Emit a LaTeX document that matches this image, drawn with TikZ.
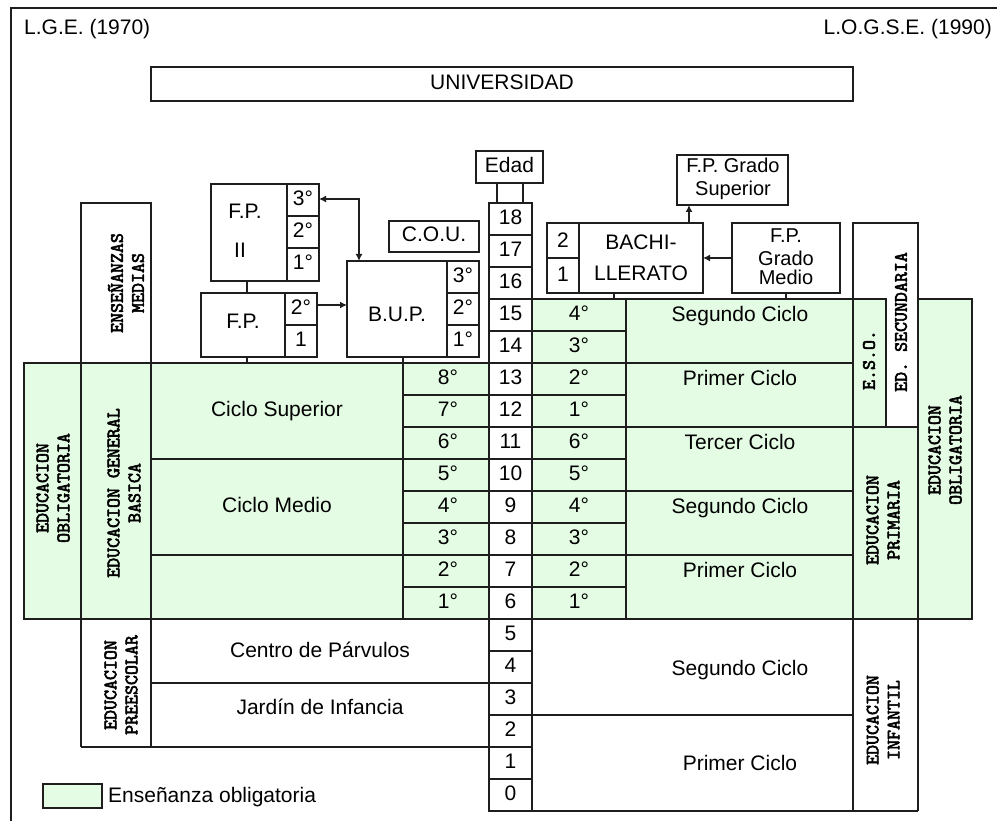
\documentclass[tikz,border=0pt]{standalone}
\usepackage{fontspec}
\setmainfont{Liberation Sans}
\newfontfamily\vfont[FakeBold=3]{lmmono10-regular.otf}
\usetikzlibrary{arrows.meta}
\definecolor{verde}{RGB}{228,252,228}
\definecolor{linea}{RGB}{30,30,30}
\begin{document}
\begin{tikzpicture}[x=1pt,y=-1pt,
  ln/.style={draw=linea,line width=1.5pt},
  bx/.style={draw=linea,line width=1.5pt,inner sep=0pt,outer sep=0pt,anchor=north west},
  t/.style={font=\fontsize{21}{22}\selectfont,inner sep=0pt,text height=15pt,text depth=4pt},
  ts/.style={font=\fontsize{20}{20}\selectfont,inner sep=0pt,text height=14pt,text depth=4pt},
  vt/.style={font=\vfont\fontsize{19}{21}\selectfont,rotate=90,align=center,inner sep=0pt},
  arr/.style={ln,-{Latex[length=7pt,width=7pt]}},
  arrb/.style={ln,{Latex[length=7pt,width=7pt]}-{Latex[length=7pt,width=7pt]}}]
\useasboundingbox (0,0) rectangle (997,821);
% frame
\draw[ln] (11,821) -- (11,8) -- (997,8);
% green areas
\fill[verde] (24,363) rectangle (489,619);
\fill[verde] (532,299) -- (886,299) -- (886,427) -- (918,427) -- (918,299) -- (972,299) -- (972,619) -- (532,619) -- cycle;
% titles
\node[t,anchor=west] (lge) at (24,29) {L.G.E. (1970)};
\node[t,anchor=east] (logse) at (992,29) {L.O.G.S.E. (1990)};
% boxes
\node[bx,minimum width=702pt,minimum height=34pt] (univ) at (151,67) {};
\node[t] at (univ.center) {UNIVERSIDAD};
\node[bx,minimum width=67pt,minimum height=32pt] (edad) at (476,151) {};
\node[t] at (edad.center) {Edad};
\node[bx,minimum width=108pt,minimum height=97pt] (fpii) at (211,184) {};
\node[bx,minimum width=116pt,minimum height=64pt] (fp) at (201,293) {};
\node[bx,minimum width=132pt,minimum height=96pt] (bup) at (347,261) {};
\node[bx,minimum width=90pt,minimum height=31pt] (cou) at (389,221) {};
\node[t] at (cou.center) {C.O.U.};
\node[bx,minimum width=156pt,minimum height=70pt] (bach) at (547,223) {};
\node[bx,minimum width=111pt,minimum height=50pt] (fpgs) at (677,155) {};
\node[bx,minimum width=108pt,minimum height=70pt] (fpgm) at (732,223) {};
\node[bx,minimum width=65pt,minimum height=204pt] (edsec) at (853,223) {};
% F.P. II
\draw[ln] (287,184) -- (287,281) (287,216) -- (319,216) (287,248) -- (319,248);
\node[t] at (245,213) {F.P.};
\node[t] at (240,252) {II};
\node[t] at (303,200) {3°};
\node[t] at (303,232) {2°};
\node[t] at (303,264) {1°};
% F.P.
\draw[ln] (285,293) -- (285,357) (285,325) -- (317,325);
\node[t] at (243,323) {F.P.};
\node[t] at (301,309) {2°};
\node[t] at (301,341) {1};
% B.U.P.
\draw[ln] (447,261) -- (447,357) (447,293) -- (479,293) (447,325) -- (479,325);
\node[t] at (397,316) {B.U.P.};
\node[t] at (463,277) {3°};
\node[t] at (463,309) {2°};
\node[t] at (463,341) {1°};
% Bachillerato
\draw[ln] (579,223) -- (579,293) (547,258) -- (579,258);
\node[t] at (563,242) {2};
\node[t] at (563,276) {1};
\node[t] at (641,244) {BACHI-};
\node[t] at (641,275) {LLERATO};
\node[ts] at (733,168) {F.P. Grado};
\node[ts] at (733,191) {Superior};
\node[ts] at (786,238) {F.P.};
\node[ts] at (786,261) {Grado};
\node[ts] at (786,280) {Medio};
% connectors
\coordinate (c247) at (247,0);
\coordinate (c403) at (403,0);
\coordinate (c614) at (614,0);
\coordinate (c786) at (786,0);
\coordinate (c497) at (497,0);
\coordinate (c523) at (523,0);
\coordinate (c689) at (689,0);
\coordinate (c359) at (359,0);
\coordinate (r363) at (0,363);
\coordinate (r299) at (0,299);
\coordinate (r203) at (0,203);
\coordinate (r305) at (0,305);
\coordinate (r199) at (0,199);
\coordinate (r258) at (0,258);
\draw[ln] (c247 |- fpii.south) -- (c247 |- fp.north);
\draw[ln] (c247 |- fp.south) -- (c247 |- r363);
\draw[ln] (c403 |- bup.south) -- (c403 |- r363);
\draw[ln] (c614 |- bach.south) -- (c614 |- r299);
\draw[ln] (c786 |- fpgm.south) -- (c786 |- r299);
\draw[ln] (c497 |- edad.south) -- (c497 |- r203);
\draw[ln] (c523 |- edad.south) -- (c523 |- r203);
\draw[arr] (fp.east |- r305) -- (bup.west |- r305);
\draw[arrb] (fpii.east |- r199) -- (c359 |- r199) -- (c359 |- bup.north);
\draw[arr] (c689 |- bach.north) -- (c689 |- fpgs.south);
\draw[arr] (fpgm.west |- r258) -- (bach.east |- r258);
% left table
\draw[ln] (24,363) rectangle (489,619);
\draw[ln] (81,747) -- (81,203) -- (151,203) -- (151,747);
\draw[ln] (403,363) -- (403,619);
\foreach \y in {395,427,459,491,523,555,587} \draw[ln] (403,\y) -- (489,\y);
\draw[ln] (151,459) -- (403,459) (151,555) -- (403,555);
\draw[ln] (81,747) -- (489,747) (151,683) -- (489,683);
% age column
\draw[ln] (489,203) rectangle (532,811);
\foreach \k in {0,...,18} {
  \pgfmathtruncatemacro{\yc}{219+32*(18-\k)}
  \node[t] at (510.5,\yc) {\k};
  \ifnum\k>0 \draw[ln] (489,\yc+16) -- (532,\yc+16); \fi
}
% right table
\draw[ln] (532,299) -- (886,299) -- (886,427) -- (918,427) -- (918,299) -- (972,299) -- (972,619) -- (532,619);
\draw[ln] (626,299) -- (626,619);
\draw[ln] (853,223) -- (853,811) (918,299) -- (918,811);
\foreach \y in {331,363,395,427,459,491,523,555,587} \draw[ln] (532,\y) -- (626,\y);
\foreach \y in {363,427,491,555} \draw[ln] (626,\y) -- (853,\y);
\draw[ln] (853,427) -- (918,427);
\draw[ln] (532,715) -- (853,715) (532,811) -- (918,811);
% degree texts
\foreach \g/\y in {8/379,7/411,6/443,5/475,4/507,3/539,2/571,1/603} \node[t] at (448,\y) {\g°};
\foreach \g/\y in {4/315,3/347,2/379,1/411,6/443,5/475,4/507,3/539,2/571,1/603} \node[t] at (579,\y) {\g°};
% cycle texts
\node[t] at (277,411) {Ciclo Superior};
\node[t] at (277,507) {Ciclo Medio};
\node[t] at (740,316) {Segundo Ciclo};
\node[t] at (740,380) {Primer Ciclo};
\node[t] at (740,444) {Tercer Ciclo};
\node[t] at (740,508) {Segundo Ciclo};
\node[t] at (740,572) {Primer Ciclo};
\node[t] at (320,652) {Centro de Párvulos};
\node[t] at (320,709) {Jardín de Infancia};
\node[t] at (740,670) {Segundo Ciclo};
\node[t] at (740,765) {Primer Ciclo};
% vertical texts
\node[vt] at (126,283) {ENSEÑANZAS\\MEDIAS};
\node[vt] at (53,488) {EDUCACION\\OBLIGATORIA};
\node[vt] at (124,493) {EDUCACION GENERAL\\BASICA};
\node[vt] at (121,685) {EDUCACION\\PREESCOLAR};
\node[vt] at (869,360) {E.S.O.};
\node[vt] at (901,322) {ED. SECUNDARIA};
\node[vt] at (883,520) {EDUCACION\\PRIMARIA};
\node[vt] at (945,450) {EDUCACION\\OBLIGATORIA};
\node[vt] at (883,720) {EDUCACION\\INFANTIL};
% legend
\node[bx,fill=verde,minimum width=59pt,minimum height=24pt] (leg) at (43,784) {};
\node[t,anchor=west] at (108,797) {Enseñanza obligatoria};
\end{tikzpicture}
\end{document}
